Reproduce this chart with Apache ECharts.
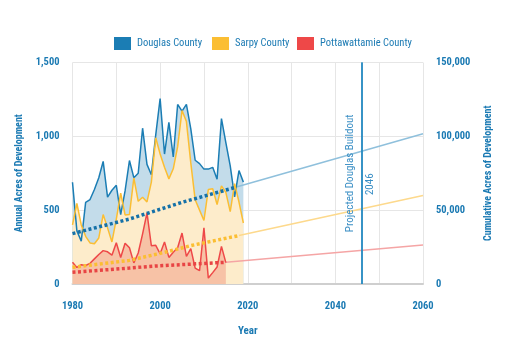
<!DOCTYPE html>
<html><head><meta charset="utf-8">
<script src="https://cdn.jsdelivr.net/npm/echarts@6/dist/echarts.min.js"></script>
<style>html,body{margin:0;padding:0;background:#fff}#c{width:508px;height:363px}</style>
</head><body><div id="c"></div>
<script>
// ---- data ----
const years = [1980,1981,1982,1983,1984,1985,1986,1987,1988,1989,1990,1991,1992,1993,1994,1995,1996,1997,1998,1999,
               2000,2001,2002,2003,2004,2005,2006,2007,2008,2009,2010,2011,2012,2013,2014,2015,2016,2017,2018,2019];
const pottYears = [1980,1981,1982,1983,1984,1985,1986,1987,1988,1989,1990,1991,1992,1993,1994,1995,1996,1997,1998,1999,
               2000,2001,2002,2003,2004,2005,2006,2007,2008,2009,2010,2011,2012,2013,2014,2015];
const douglas = [689,360,290,553,572,640,720,830,588,635,668,470,630,836,720,750,1055,810,740,1010,
                 1255,880,1095,860,1216,1171,1216,1050,838,815,778,778,790,710,1120,958,800,590,768,690];
const sarpy = [400,545,400,323,278,273,312,470,380,285,440,615,468,470,718,560,587,556,690,990,
               880,790,712,780,930,1175,1100,820,570,500,430,640,645,538,665,620,490,680,555,413];
const pott = [147,112,131,125,140,170,200,226,218,195,279,180,276,245,143,210,340,482,259,262,
              205,285,180,215,245,345,187,240,108,90,380,40,77,115,255,145];

// trend lines (annual acres, dotted)
const douglasTrendYears = [1980,1993,2005,2017];
const douglasTrend = [341,440,553,653];
const sarpyTrendYears = [1980,1993,2002,2007,2018];
const sarpyTrend = [113,160,221,260,328];
const pottTrendYears = [1980,1993,1999,2015];
const pottTrend = [79,108,122,147];

// projections (cumulative acres, right axis)
const douglasProjYears = [2017,2060];
const douglasProj = [65300,101800];
const sarpyProjYears = [2018,2060];
const sarpyProj = [32800,59900];
const pottProjYears = [2015,2060];
const pottProj = [14700,26400];

const buildoutYear = 2046;
const xLabelYears = [1980,2000,2020,2040,2060];
const seriesNames = ['Douglas County','Sarpy County','Pottawattamie County'];

// ---- styling ----
const FONT = '"Roboto Condensed","Open Sans",sans-serif';
const TXT = '#1b7ab3';
const C_D = '#1b7db4', C_S = '#fbbe33', C_P = '#ee4848';
const zip = (xs, ys) => xs.map((x, i) => [x, ys[i]]);

const areaSeries = (data, color, z) => ({
  type: 'line', data, symbol: 'none', silent: true, z,
  lineStyle: { width: 0 }, areaStyle: { color, opacity: 1 }
});
const lineSeries = (name, data, color, z) => ({
  name, type: 'line', data, symbol: 'none', z,
  lineStyle: { color, width: 1.5 }, itemStyle: { color }
});
const dotSeries = (data, color, z) => ({
  type: 'line', data, symbol: 'none', z, silent: true,
  lineStyle: { color, width: 3.5, type: [3, 2.5] }
});
const projSeries = (data, color, z, extra) => Object.assign({
  type: 'line', data, symbol: 'none', z, silent: true, yAxisIndex: 1,
  lineStyle: { color, width: 1.5 }
}, extra || {});

const chart = echarts.init(document.getElementById('c'));
const legendItem = (name, left) => ({
  data: [name], left, top: 32, itemWidth: 17, itemHeight: 13, itemGap: 0,
  icon: 'rect', selectedMode: false,
  textStyle: { color: TXT, fontFamily: FONT, fontSize: 10.5, padding: [0,0,0,1] }
});
const axisText = { color: TXT, fontFamily: FONT, fontWeight: 'bold', fontSize: 10.5 };
const nameText = { color: TXT, fontFamily: FONT, fontWeight: 'bold', fontSize: 10 };

chart.setOption({
  animation: false,
  backgroundColor: '#fff',
  legend: [legendItem(seriesNames[0], 109), legendItem(seriesNames[1], 207), legendItem(seriesNames[2], 292)],
  grid: { left: 72.5, right: 85, top: 62.5, bottom: 79 },
  xAxis: {
    type: 'value', min: 1980, max: 2060, interval: 10,
    name: 'Year', nameLocation: 'middle', nameGap: 42,
    nameTextStyle: Object.assign({}, nameText, { fontSize: 11 }),
    axisLine: { lineStyle: { color: '#cfcfcf', width: 2 } },
    axisTick: { show: false },
    axisLabel: Object.assign({ margin: 17, formatter: v => xLabelYears.includes(v) ? String(v) : '' }, axisText),
    splitLine: { show: true, lineStyle: { color: '#e6e6e6', width: 1 } }
  },
  yAxis: [{
    type: 'value', min: 0, max: 1500, interval: 500,
    name: 'Annual Acres of Development', nameLocation: 'middle', nameGap: 46,
    nameTextStyle: nameText,
    axisLine: { show: false }, axisTick: { show: false },
    axisLabel: Object.assign({ margin: 13, formatter: v => v.toLocaleString('en-US') }, axisText),
    splitLine: { lineStyle: { color: '#e6e6e6', width: 1 } }
  }, {
    type: 'value', min: 0, max: 150000, interval: 50000, position: 'right',
    name: 'Cumulative Acres of Development', nameLocation: 'middle', nameGap: 60, nameRotate: 90,
    nameTextStyle: nameText,
    axisLine: { show: false }, axisTick: { show: false },
    axisLabel: Object.assign({ margin: 13, formatter: v => v.toLocaleString('en-US') }, axisText),
    splitLine: { show: false }
  }],
  series: [
    areaSeries(zip(years, douglas), '#c3dcea', 1),
    areaSeries(zip(years, sarpy), '#fdeccb', 2),
    areaSeries(zip(pottYears, pott), '#f7c2a6', 3),
    projSeries(zip(douglasProjYears, douglasProj), '#8fc0dc', 4, {
      markLine: {
        silent: true, symbol: ['none','none'],
        lineStyle: { color: '#2a8cc2', width: 1.5, type: 'solid' },
        label: { color: '#3b8fc5', fontFamily: FONT, fontSize: 11 },
        data: [
          { xAxis: buildoutYear, label: { formatter: 'Projected Douglas Buildout', position: 'insideMiddleTop', distance: 6 } },
          { xAxis: buildoutYear, label: { formatter: String(buildoutYear), position: 'insideMiddleBottom', distance: 3, padding: [0, 22, 0, 0] } }
        ]
      }
    }),
    projSeries(zip(sarpyProjYears, sarpyProj), '#fdd98c', 4),
    projSeries(zip(pottProjYears, pottProj), '#f5a5a5', 4),
    lineSeries(seriesNames[0], zip(years, douglas), C_D, 10),
    lineSeries(seriesNames[1], zip(years, sarpy), C_S, 11),
    lineSeries(seriesNames[2], zip(pottYears, pott), C_P, 12),
    dotSeries(zip(sarpyTrendYears, sarpyTrend), C_S, 13),
    dotSeries(zip(pottTrendYears, pottTrend), '#e84444', 14),
    dotSeries(zip(douglasTrendYears, douglasTrend), '#1571a8', 15)
  ]
});
</script></body></html>
